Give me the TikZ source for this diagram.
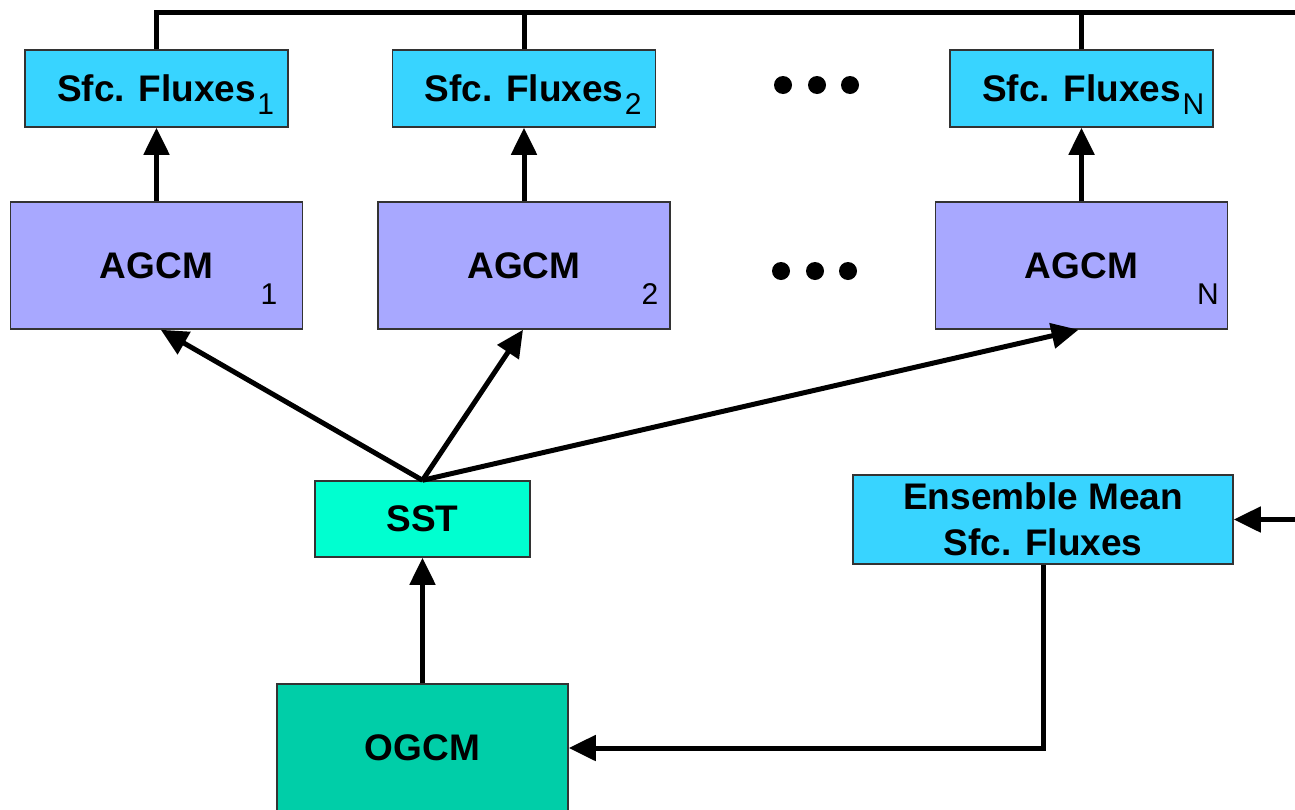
\documentclass[tikz,border=0pt]{standalone}
\usepackage{fontspec}
\setmainfont{Liberation Sans}
\usetikzlibrary{arrows.meta,calc}
\definecolor{sfc}{RGB}{56,212,255}
\definecolor{agcm}{RGB}{168,168,255}
\definecolor{sstc}{RGB}{0,255,208}
\definecolor{ogcm}{RGB}{0,206,168}
\newcommand\mysubsize{\fontsize{15}{17}\selectfont\mdseries}
\newcommand\mysub[1]{\rlap{\kern0.8pt\raisebox{-6.5pt}[0pt][0pt]{\mysubsize #1}}}
\begin{document}
\begin{tikzpicture}[x=0.5pt,y=-0.5pt,
 box/.style={draw=black!80,line width=0.75pt,inner sep=0pt,font=\fontsize{18.5}{23}\selectfont\bfseries},
 sfcbox/.style={box,fill=sfc,minimum width=131.5pt,minimum height=38.5pt},
 agcmbox/.style={box,fill=agcm,minimum width=146pt,minimum height=63.5pt},
 conn/.style={line width=2.5pt,-{Triangle[length=13.5pt,width=12.5pt]}},
 plain/.style={line width=2.5pt},
 subtxt/.style={font=\mysubsize,inner sep=0pt},
 dotn/.style={circle,fill=black,minimum size=9pt,inner sep=0pt}]
\useasboundingbox (0,0) rectangle (1295,809);
\clip (0,0) rectangle (1295,809);
% surface flux boxes
\node[sfcbox] (s1) at (156.5,88.5) {Sfc. Fluxes\mysub{1}};
\node[sfcbox] (s2) at (524,88.5) {Sfc. Fluxes\mysub{2}};
\node[sfcbox] (sN) at (1081.5,88.5) {Sfc. Fluxes\mysub{N}};
% AGCM boxes
\node[agcmbox] (a1) at (156.5,265.5) {AGCM};
\node[agcmbox] (a2) at (524,265.5) {AGCM};
\node[agcmbox] (aN) at (1081.5,265.5) {AGCM};
\node[subtxt] (a1s) at (269,294) {1};
\node[subtxt] (a2s) at (650,294) {2};
\node[subtxt] (aNs) at (1208,294) {N};
% dots
\node[dotn] (d1) at (783,85) {};
\node[dotn] (d2) at (817,85) {};
\node[dotn] (d3) at (850,85) {};
\node[dotn] (d4) at (781,271) {};
\node[dotn] (d5) at (815,271) {};
\node[dotn] (d6) at (848,271) {};
% lower boxes
\node[box,fill=sstc,minimum width=107.5pt,minimum height=38pt] (sst) at (422.5,519) {SST};
\node[box,fill=sfc,minimum width=190pt,minimum height=44.5pt,align=center] (ens) at (1043,519.5) {Ensemble Mean\\Sfc. Fluxes};
\node[box,fill=ogcm,minimum width=145.5pt,minimum height=64pt] (og) at (422.5,748) {OGCM};
% connectors
\coordinate (tl) at (156.5,12);
\coordinate (tr) at (1330,12);
\coordinate (br) at (1330,519.5);
\draw[plain] (s1.north) -- (tl) -- (tr);
\draw[plain] (s2.north) -- (s2.north |- tl);
\draw[plain] (sN.north) -- (sN.north |- tl);
\draw[conn] (tr) -- (br) -- (ens.east);
\draw[conn] (a1.north) -- (s1.south);
\draw[conn] (a2.north) -- (s2.south);
\draw[conn] (aN.north) -- (sN.south);
\draw[conn] (sst.north) -- ($(a1.south west)+(151,0)$);
\draw[conn] (sst.north) -- ($(a2.south)+(-1,0)$);
\draw[conn] (sst.north) -- ($(aN.south)+(-3,0)$);
\draw[conn] (og.north) -- (sst.south);
\draw[conn] (ens.south) |- (og.east);
\end{tikzpicture}
\end{document}
